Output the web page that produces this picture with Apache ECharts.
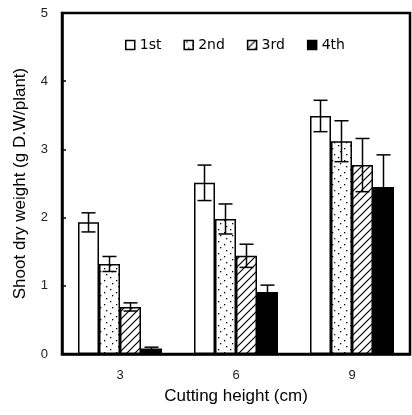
<!DOCTYPE html>
<html>
<head>
<meta charset="utf-8">
<script src="https://cdn.jsdelivr.net/npm/echarts@6/dist/echarts.min.js"></script>
<style>
  html, body { margin: 0; padding: 0; background: #fff; }
  #chart { width: 412px; height: 415px; }
</style>
</head>
<body>
<div id="chart"></div>
<script>
const categories = ['3', '6', '9'];
const seriesNames = ['1st', '2nd', '3rd', '4th'];
const means = [
  [1.93, 2.51, 3.49],
  [1.32, 1.98, 3.12],
  [0.69, 1.44, 2.77],
  [0.08, 0.91, 2.45]
];
const errors = [
  [0.14, 0.26, 0.23],
  [0.11, 0.22, 0.30],
  [0.06, 0.17, 0.39],
  [0.02, 0.10, 0.47]
];
const yTicks = [0, 1, 2, 3, 4, 5];

const FONT = '"Liberation Sans", Arial, sans-serif';
const GAP = 0.276;

function dotPattern() {
  const c = document.createElement('canvas');
  c.width = 12; c.height = 12;
  const ctx = c.getContext('2d');
  ctx.fillStyle = '#fff';
  ctx.fillRect(0, 0, 12, 12);
  ctx.fillStyle = '#000';
  [[2, 1], [8, 4], [4, 7], [10, 10]].forEach(p => {
    ctx.fillRect(p[0], p[1], 1.3, 1.3);
  });
  return c;
}

function hatchPattern() {
  const s = 8;
  const c = document.createElement('canvas');
  c.width = s; c.height = s;
  const ctx = c.getContext('2d');
  ctx.fillStyle = '#fff';
  ctx.fillRect(0, 0, s, s);
  ctx.strokeStyle = '#000';
  ctx.lineWidth = 1.2;
  ctx.beginPath();
  ctx.moveTo(0, s); ctx.lineTo(s, 0);
  ctx.moveTo(-s / 2, s / 2); ctx.lineTo(s / 2, -s / 2);
  ctx.moveTo(s / 2, s * 1.5); ctx.lineTo(s * 1.5, s / 2);
  ctx.stroke();
  return c;
}

const fills = [
  '#fff',
  { image: dotPattern(), repeat: 'repeat' },
  { image: hatchPattern(), repeat: 'repeat' },
  '#000'
];

const barSeries = seriesNames.map((name, i) => ({
  name: name,
  type: 'bar',
  data: means[i],
  barGap: 0,
  barCategoryGap: (GAP * 100) + '%',
  itemStyle: { color: fills[i], borderColor: '#000', borderWidth: 1.5 },
  z: 2
}));

// error bars: [category index, mean, sd, series index]
const errData = [];
means.forEach((row, s) => {
  row.forEach((v, c) => errData.push([c, v, errors[s][c], s]));
});

const errorSeries = {
  type: 'custom',
  silent: true,
  z: 5,
  data: errData,
  renderItem: function (params, api) {
    const c = api.value(0);
    const v = api.value(1);
    const e = api.value(2);
    const s = api.value(3);
    const band = api.size([1, 0])[0];
    const bw = band * (1 - GAP) / seriesNames.length;
    const center = api.coord([c, v]);
    const x = center[0] + (s - (seriesNames.length - 1) / 2) * bw;
    const top = api.coord([c, v + e])[1];
    const bot = api.coord([c, v - e])[1];
    const cap = 7;
    const st = { stroke: '#000', lineWidth: 1.5 };
    return {
      type: 'group',
      children: [
        { type: 'line', shape: { x1: x, y1: top, x2: x, y2: bot }, style: st },
        { type: 'line', shape: { x1: x - cap, y1: top, x2: x + cap, y2: top }, style: st },
        { type: 'line', shape: { x1: x - cap, y1: bot, x2: x + cap, y2: bot }, style: st }
      ]
    };
  }
};

const chart = echarts.init(document.getElementById('chart'));
chart.setOption({
  backgroundColor: '#fff',
  animation: false,
  textStyle: { fontFamily: FONT },
  grid: {
    left: 62, top: 13, right: 2, bottom: 61,
    show: true, borderColor: '#000', borderWidth: 2.5, backgroundColor: 'transparent'
  },
  legend: {
    data: seriesNames,
    icon: 'rect',
    left: 120, top: 33,
    itemWidth: 9, itemHeight: 9, itemGap: 22,
    textStyle: { fontSize: 14, color: '#000', fontFamily: '"DejaVu Sans", sans-serif' },
    itemStyle: { borderColor: '#000', borderWidth: 1.5 }
  },
  xAxis: {
    type: 'category',
    data: categories,
    name: 'Cutting height (cm)',
    nameLocation: 'middle',
    nameGap: 34,
    nameTextStyle: { fontSize: 17, color: '#000', fontFamily: FONT },
    axisLine: { lineStyle: { color: '#000', width: 2.5 } },
    axisTick: { inside: true, length: 4, lineStyle: { color: '#000', width: 1.5 } },
    axisLabel: { fontSize: 13, color: '#222', margin: 15, fontFamily: FONT }
  },
  yAxis: {
    type: 'value',
    min: yTicks[0],
    max: yTicks[yTicks.length - 1],
    interval: 1,
    name: 'Shoot dry weight (g D.W/plant)',
    nameLocation: 'middle',
    nameGap: 33,
    nameTextStyle: { fontSize: 17, color: '#000', fontFamily: FONT },
    axisLine: { show: true, lineStyle: { color: '#000', width: 2.5 } },
    axisTick: { show: true, inside: true, length: 4, lineStyle: { color: '#000', width: 1.5 } },
    axisLabel: { fontSize: 13, color: '#222', margin: 14, fontFamily: FONT },
    splitLine: { show: false }
  },
  series: barSeries.concat([errorSeries])
});
</script>
</body>
</html>
